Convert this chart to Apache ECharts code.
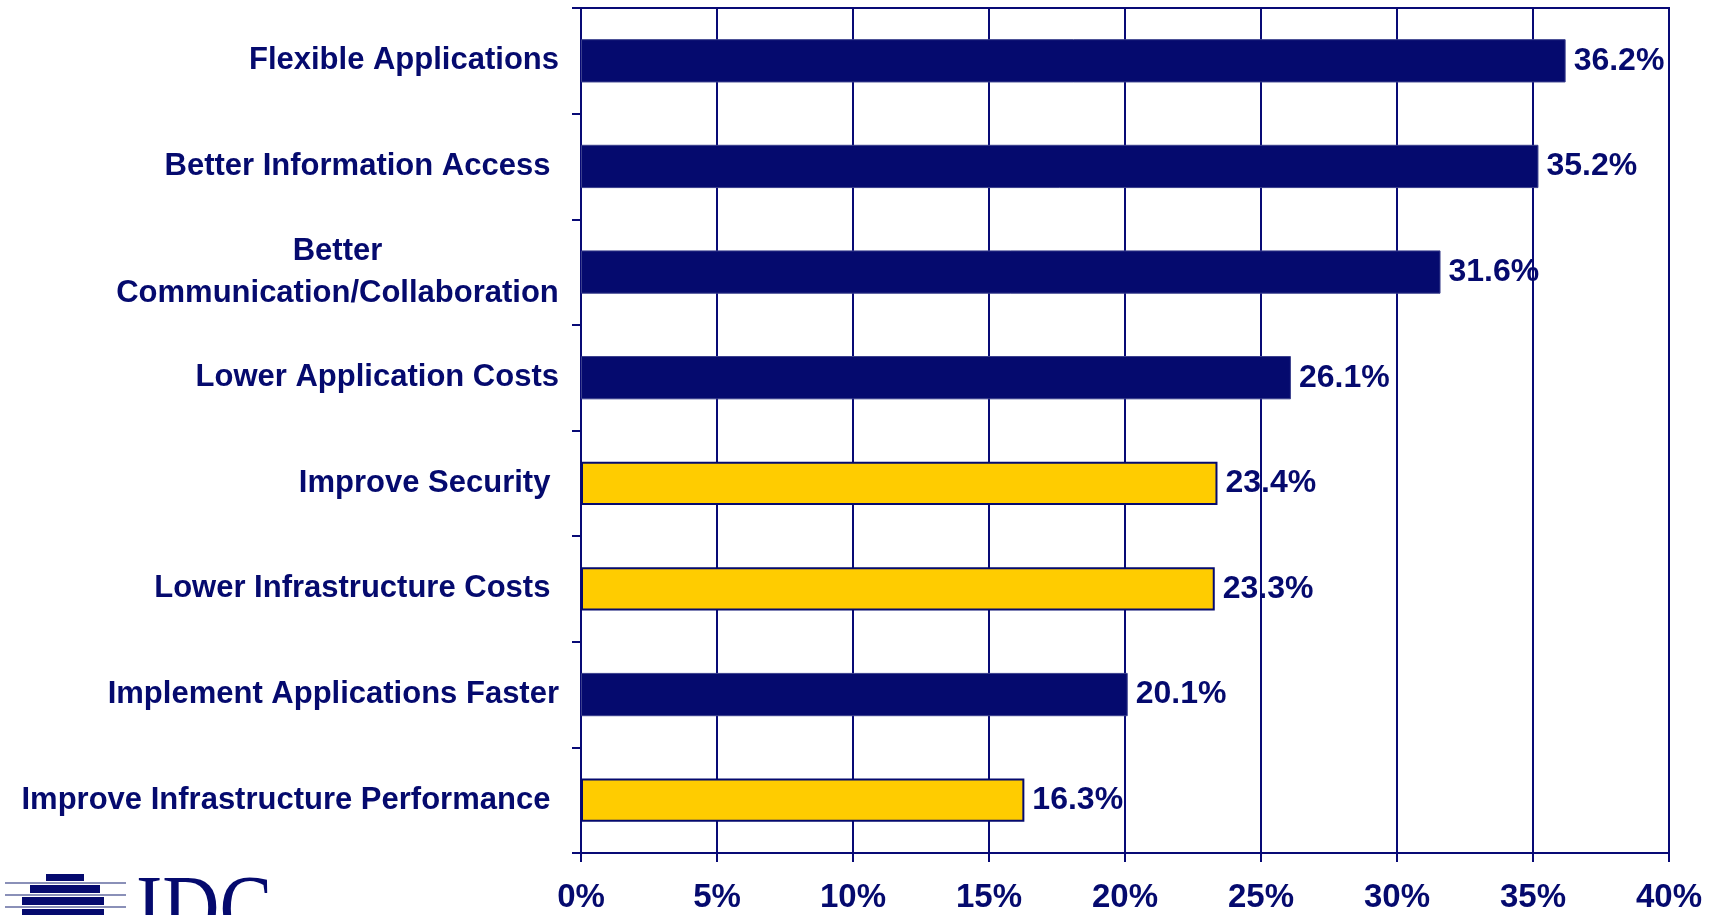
<!DOCTYPE html>
<html>
<head>
<meta charset="utf-8">
<title>Benefits</title>
<script src="https://cdn.jsdelivr.net/npm/echarts@6/dist/echarts.min.js"></script>
<style>
  html, body { margin: 0; padding: 0; background: #fff; }
  #chart { width: 1712px; height: 915px; }
</style>
</head>
<body>
<div id="chart"></div>
<script>
// chart values
const categories = [
  'Flexible Applications',
  'Better Information Access ',
  'Better\nCommunication/Collaboration',
  'Lower Application Costs',
  'Improve Security ',
  'Lower Infrastructure Costs ',
  'Implement Applications Faster',
  'Improve Infrastructure Performance '
]
const values = [36.2, 35.2, 31.6, 26.1, 23.4, 23.3, 20.1, 16.3]
// which bars are infrastructure related (drawn yellow)
const groups = ['app', 'app', 'app', 'app', 'infra', 'infra', 'app', 'infra']
const xMin = 0
const xMax = 40
const xStep = 5

const navy = '#050a6e'
const lineNavy = '#080a76'
const yellow = '#ffcc00'
const font = '"Liberation Sans", Arial, sans-serif'
const catSize = 31

// width of the longest line of a wrapped label, so the short line can be centred over it
function lineWidth(text, size) {
  const ctx = document.createElement('canvas').getContext('2d')
  ctx.font = 'bold ' + size + 'px ' + font
  return Math.ceil(ctx.measureText(text).width)
}

const chart = echarts.init(document.getElementById('chart'))

const wrapW = Math.max(...categories.filter(c => c.indexOf('\n') >= 0)
  .map(c => c.split('\n')).flat().map(s => lineWidth(s, catSize)))

const option = {
  backgroundColor: '#fff',
  animation: false,
  grid: {
    left: 581,
    right: 43,
    top: 8,
    bottom: 62,
    show: true,
    borderColor: lineNavy,
    borderWidth: 2,
    containLabel: false,
    outerBoundsMode: 'none'
  },
  xAxis: {
    type: 'value',
    min: xMin,
    max: xMax,
    interval: xStep,
    axisLine: { show: true, lineStyle: { color: lineNavy, width: 2 } },
    axisTick: { show: true, length: 9, lineStyle: { color: lineNavy, width: 2 } },
    splitLine: { show: true, lineStyle: { color: lineNavy, width: 2 } },
    axisLabel: {
      formatter: '{value}%',
      color: navy,
      fontFamily: font,
      fontWeight: 'bold',
      fontSize: 33,
      margin: 28
    }
  },
  yAxis: {
    type: 'category',
    inverse: true,
    data: categories,
    axisLine: { show: true, lineStyle: { color: lineNavy, width: 2 } },
    axisTick: { show: true, length: 9, lineStyle: { color: lineNavy, width: 2 } },
    splitLine: { show: false },
    axisLabel: {
      color: navy,
      fontFamily: font,
      fontWeight: 'bold',
      fontSize: catSize,
      lineHeight: 42,
      margin: 22,
      align: 'right',
      formatter: function (val) {
        if (val.indexOf('\n') < 0) return val
        return val.split('\n').map(s => '{c|' + s + '}').join('\n')
      },
      rich: {
        c: {
          width: wrapW,
          align: 'center',
          color: navy,
          fontFamily: font,
          fontWeight: 'bold',
          fontSize: catSize,
          lineHeight: 42
        }
      }
    }
  },
  series: [{
    type: 'bar',
    barWidth: '41%',
    data: values.map((v, i) => ({
      value: v,
      itemStyle: groups[i] === 'infra'
        ? { color: yellow, borderColor: navy, borderWidth: 2 }
        : { color: navy, borderColor: '#3a3f8c', borderWidth: 1 }
    })),
    label: {
      show: true,
      position: 'right',
      distance: 8,
      formatter: p => p.value.toFixed(1) + '%',
      color: navy,
      fontFamily: font,
      fontWeight: 'bold',
      fontSize: 32
    }
  }],
  // IDC logo, bottom left
  graphic: [{
    type: 'group',
    x: 0,
    y: 872,
    silent: true,
    children: [
      { type: 'rect', shape: { x: 46, y: 2, width: 38, height: 7 }, style: { fill: navy } },
      { type: 'rect', shape: { x: 30, y: 13, width: 70, height: 8 }, style: { fill: navy } },
      { type: 'rect', shape: { x: 22, y: 25, width: 82, height: 8 }, style: { fill: navy } },
      { type: 'rect', shape: { x: 22, y: 37, width: 82, height: 8 }, style: { fill: navy } },
      { type: 'rect', shape: { x: 5, y: 10, width: 121, height: 2 }, style: { fill: '#8a90b8' } },
      { type: 'rect', shape: { x: 5, y: 22, width: 121, height: 2 }, style: { fill: '#8a90b8' } },
      { type: 'rect', shape: { x: 5, y: 34, width: 121, height: 2 }, style: { fill: '#8a90b8' } },
      {
        type: 'text',
        x: 136,
        y: -3,
        scaleX: 0.88,
        style: {
          text: 'IDC',
          fill: navy,
          font: '90px "Liberation Serif", "Times New Roman", serif',
          textVerticalAlign: 'top'
        }
      }
    ]
  }]
}

chart.setOption(option)
</script>
</body>
</html>
